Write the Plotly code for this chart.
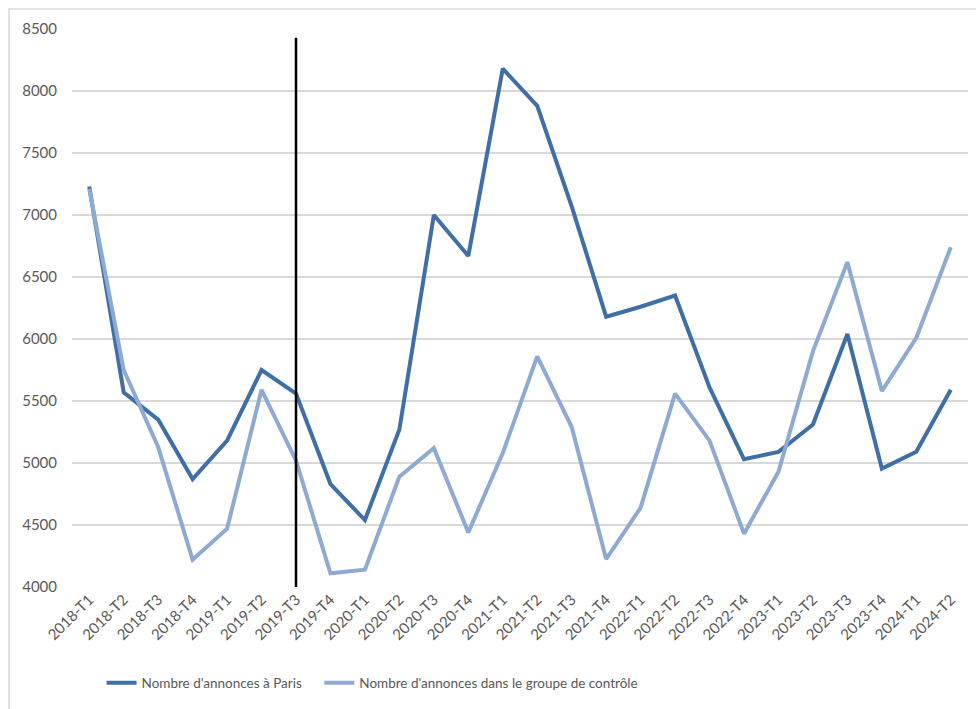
import plotly.graph_objects as go

# Quarters (T = trimestre)
quarters = [
    "2018-T1", "2018-T2", "2018-T3", "2018-T4",
    "2019-T1", "2019-T2", "2019-T3", "2019-T4",
    "2020-T1", "2020-T2", "2020-T3", "2020-T4",
    "2021-T1", "2021-T2", "2021-T3", "2021-T4",
    "2022-T1", "2022-T2", "2022-T3", "2022-T4",
    "2023-T1", "2023-T2", "2023-T3", "2023-T4",
    "2024-T1", "2024-T2",
]

# Number of listings in Paris
paris = [
    7230, 5570, 5350, 4870,
    5180, 5750, 5560, 4830,
    4540, 5270, 7000, 6670,
    8180, 7880, 7070, 6180,
    6260, 6350, 5610, 5030,
    5090, 5310, 6040, 4955,
    5090, 5590,
]

# Number of listings in the control group
controle = [
    7210, 5750, 5130, 4220,
    4470, 5590, 5020, 4110,
    4140, 4890, 5120, 4440,
    5080, 5860, 5290, 4225,
    4640, 5560, 5180, 4430,
    4930, 5900, 6620, 5580,
    6010, 6740,
]

series_names = [
    "Nombre d'annonces à Paris",
    "Nombre d'annonces dans le groupe de contrôle",
]

y_ticks = [4000, 4500, 5000, 5500, 6000, 6500, 7000, 7500, 8000, 8500]
event_quarter = "2019-T3"

DARK = "#3f6fa6"
LIGHT = "#8eaad3"
TEXT = "#595959"
GRID = "#d9d9d9"
FONT = "Lato, Noto Sans, sans-serif"

fig = go.Figure()
fig.add_trace(go.Scatter(
    x=quarters, y=paris, name=series_names[0], mode="lines",
    line=dict(color=DARK, width=4), legend="legend",
))
fig.add_trace(go.Scatter(
    x=quarters, y=controle, name=series_names[1], mode="lines",
    line=dict(color=LIGHT, width=4), legend="legend2",
))

# Vertical marker at the reform quarter
fig.add_shape(
    type="line", xref="x", yref="y",
    x0=event_quarter, x1=event_quarter, y0=3895, y1=8430,
    line=dict(color="black", width=2.5), layer="above",
)

# Outer chart frame
fig.add_shape(
    type="rect", xref="paper", yref="paper",
    x0=-0.0703, x1=1.02, y0=-0.25, y1=1.0358,
    line=dict(color=GRID, width=1.5), fillcolor="rgba(0,0,0,0)",
    layer="below",
)

legend_style = dict(
    orientation="h", xanchor="left", y=-0.172, yanchor="middle",
    font=dict(size=13.5, color=TEXT), itemwidth=30,
    bgcolor="rgba(0,0,0,0)", borderwidth=0,
)

fig.update_layout(
    width=976, height=709,
    margin=dict(l=72, r=8, t=29, b=122),
    paper_bgcolor="white", plot_bgcolor="white",
    font=dict(family=FONT, color=TEXT, size=14),
    showlegend=True,
    legend=dict(x=0.033, **legend_style),
    legend2=dict(x=0.276, **legend_style),
)

fig.update_xaxes(
    type="category", range=[-0.5, len(quarters) - 0.5], tickangle=-45,
    showgrid=False, zeroline=False, showline=False, ticks="",
    tickfont=dict(size=15, color=TEXT),
)
fig.update_yaxes(
    range=[4000, 8500], tickvals=y_ticks, showgrid=True, gridcolor=GRID,
    gridwidth=1.5, zeroline=False, showline=False, ticks="",
    ticklabelstandoff=14, tickfont=dict(size=15, color=TEXT),
)

fig.write_html("out.html")
